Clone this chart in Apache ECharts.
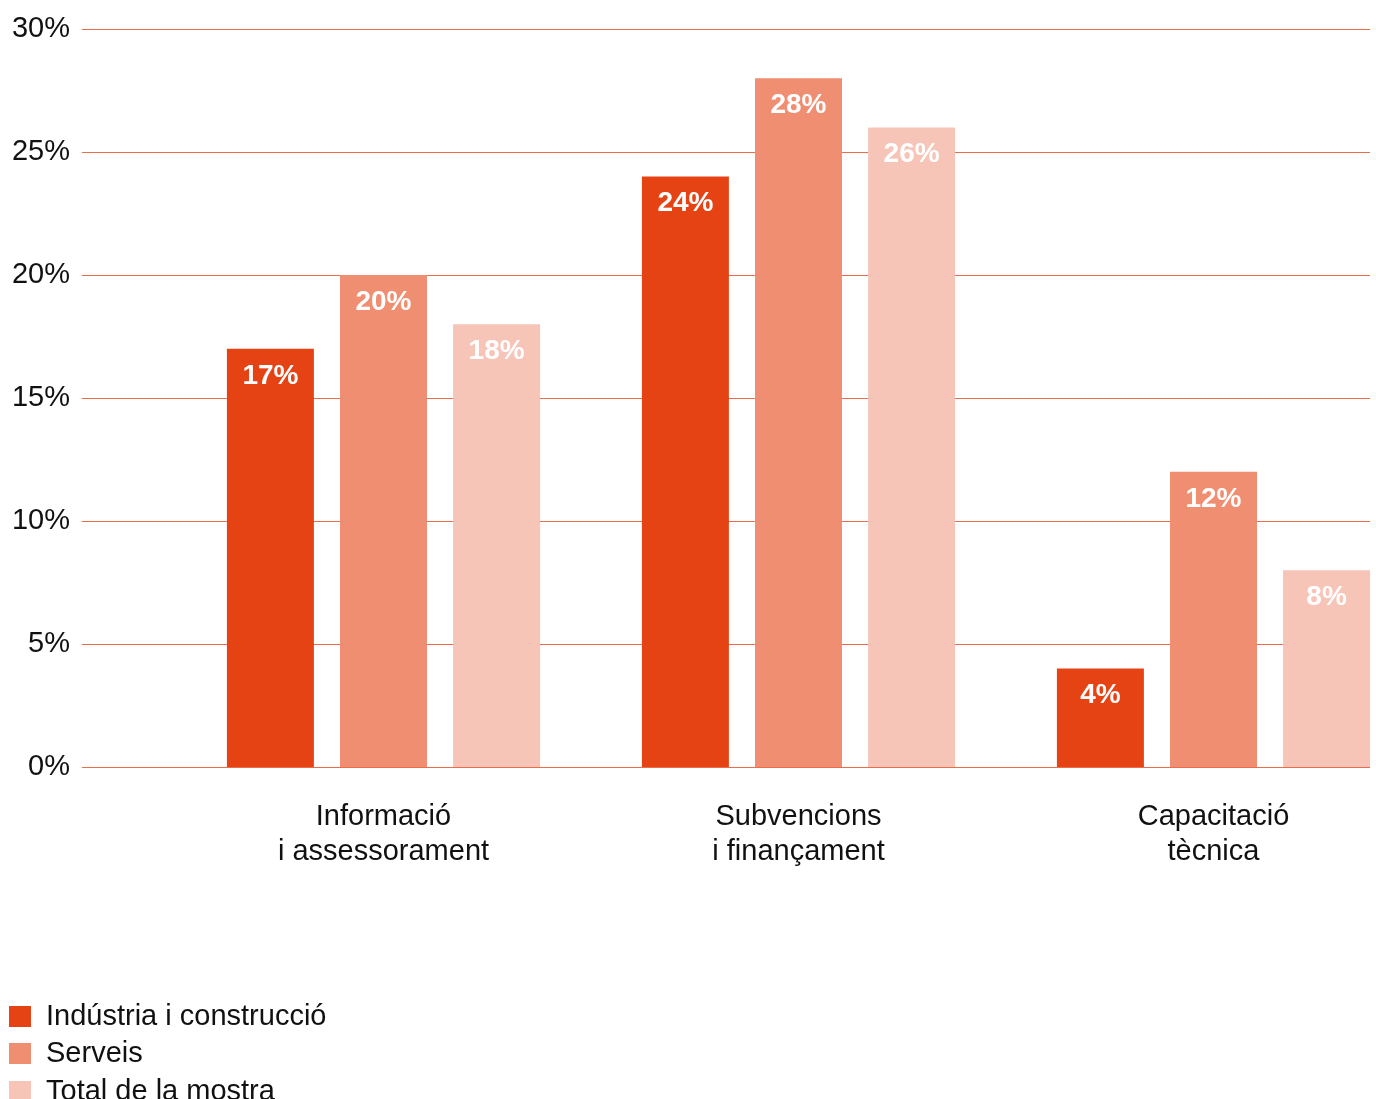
<!DOCTYPE html>
<html>
<head>
<meta charset="utf-8">
<script src="https://cdn.jsdelivr.net/npm/echarts@6/dist/echarts.min.js"></script>
<style>
  html, body { margin: 0; padding: 0; background: #fff; }
  #chart { width: 1376px; height: 1099px; }
</style>
</head>
<body>
<div id="chart"></div>
<script>
// categories
const categories = ['Informació\ni assessorament', 'Subvencions\ni finançament', 'Capacitació\ntècnica']
// series
const seriesNames = ['Indústria i construcció', 'Serveis', 'Total de la mostra']
const industria = [17, 24, 4]
const serveis = [20, 28, 12]
const total = [18, 26, 8]
// y axis
const yMin = 0
const yMax = 30
const yStep = 5

const colors = ['#E64314', '#F08E72', '#F7C5B8']
const font = 'Liberation Sans, Arial, sans-serif'

let myChart = echarts.init(document.getElementById('chart'))

const barLabel = {
  show: true,
  position: 'insideTop',
  distance: 13,
  color: '#fff',
  fontWeight: 'bold',
  fontSize: 28,
  fontFamily: font,
  formatter: '{c}%',
}

function makeSeries(name, data, color) {
  return {
    name: name,
    type: 'bar',
    xAxisIndex: 1,
    yAxisIndex: 1,
    data: data,
    barWidth: 87,
    barGap: '30%',
    itemStyle: { color: color },
    label: barLabel,
    silent: true,
  }
}

// 图例: 每行一个
function makeLegend(name, top) {
  return {
    orient: 'vertical',
    left: 9,
    top: top,
    padding: 0,
    icon: 'rect',
    itemWidth: 22,
    itemHeight: 21,
    data: [name],
    textStyle: {
      fontSize: 29,
      lineHeight: 21,
      color: '#111',
      fontFamily: font,
      padding: [0, 0, 0, 10],
    },
    selectedMode: false,
  }
}

let option = {
  animation: false,
  color: colors,
  //网格: 0 画刻度线, 1 放柱子
  grid: [
    { left: 82, right: 6, top: 29, bottom: 332, outerBoundsMode: 'none' },
    { left: 176, right: -45, top: 29, bottom: 332, outerBoundsMode: 'none' },
  ],
  legend: [
    makeLegend(seriesNames[0], 1002),
    makeLegend(seriesNames[1], 1039),
    makeLegend(seriesNames[2], 1077),
  ],
  xAxis: [
    {
      gridIndex: 0,
      type: 'category',
      data: categories,
      show: false,
    },
    {
      gridIndex: 1,
      type: 'category',
      data: categories,
      axisLine: { show: false },
      axisTick: { show: false },
      axisLabel: {
        margin: 32,
        fontSize: 29,
        lineHeight: 35,
        color: '#111',
        fontFamily: font,
        interval: 0,
      },
    },
  ],
  yAxis: [
    {
      gridIndex: 0,
      type: 'value',
      min: yMin,
      max: yMax,
      interval: yStep,
      axisLine: { show: false },
      axisTick: { show: false },
      axisLabel: {
        margin: 12,
        fontSize: 29,
        color: '#111',
        fontFamily: font,
        formatter: '{value}%',
      },
      splitLine: { lineStyle: { color: '#EC6C4C', width: 1 } },
    },
    {
      gridIndex: 1,
      type: 'value',
      min: yMin,
      max: yMax,
      interval: yStep,
      show: false,
      splitLine: { show: false },
    },
  ],
  series: [
    makeSeries(seriesNames[0], industria, colors[0]),
    makeSeries(seriesNames[1], serveis, colors[1]),
    makeSeries(seriesNames[2], total, colors[2]),
  ],
}
myChart.setOption(option)
</script>
</body>
</html>
